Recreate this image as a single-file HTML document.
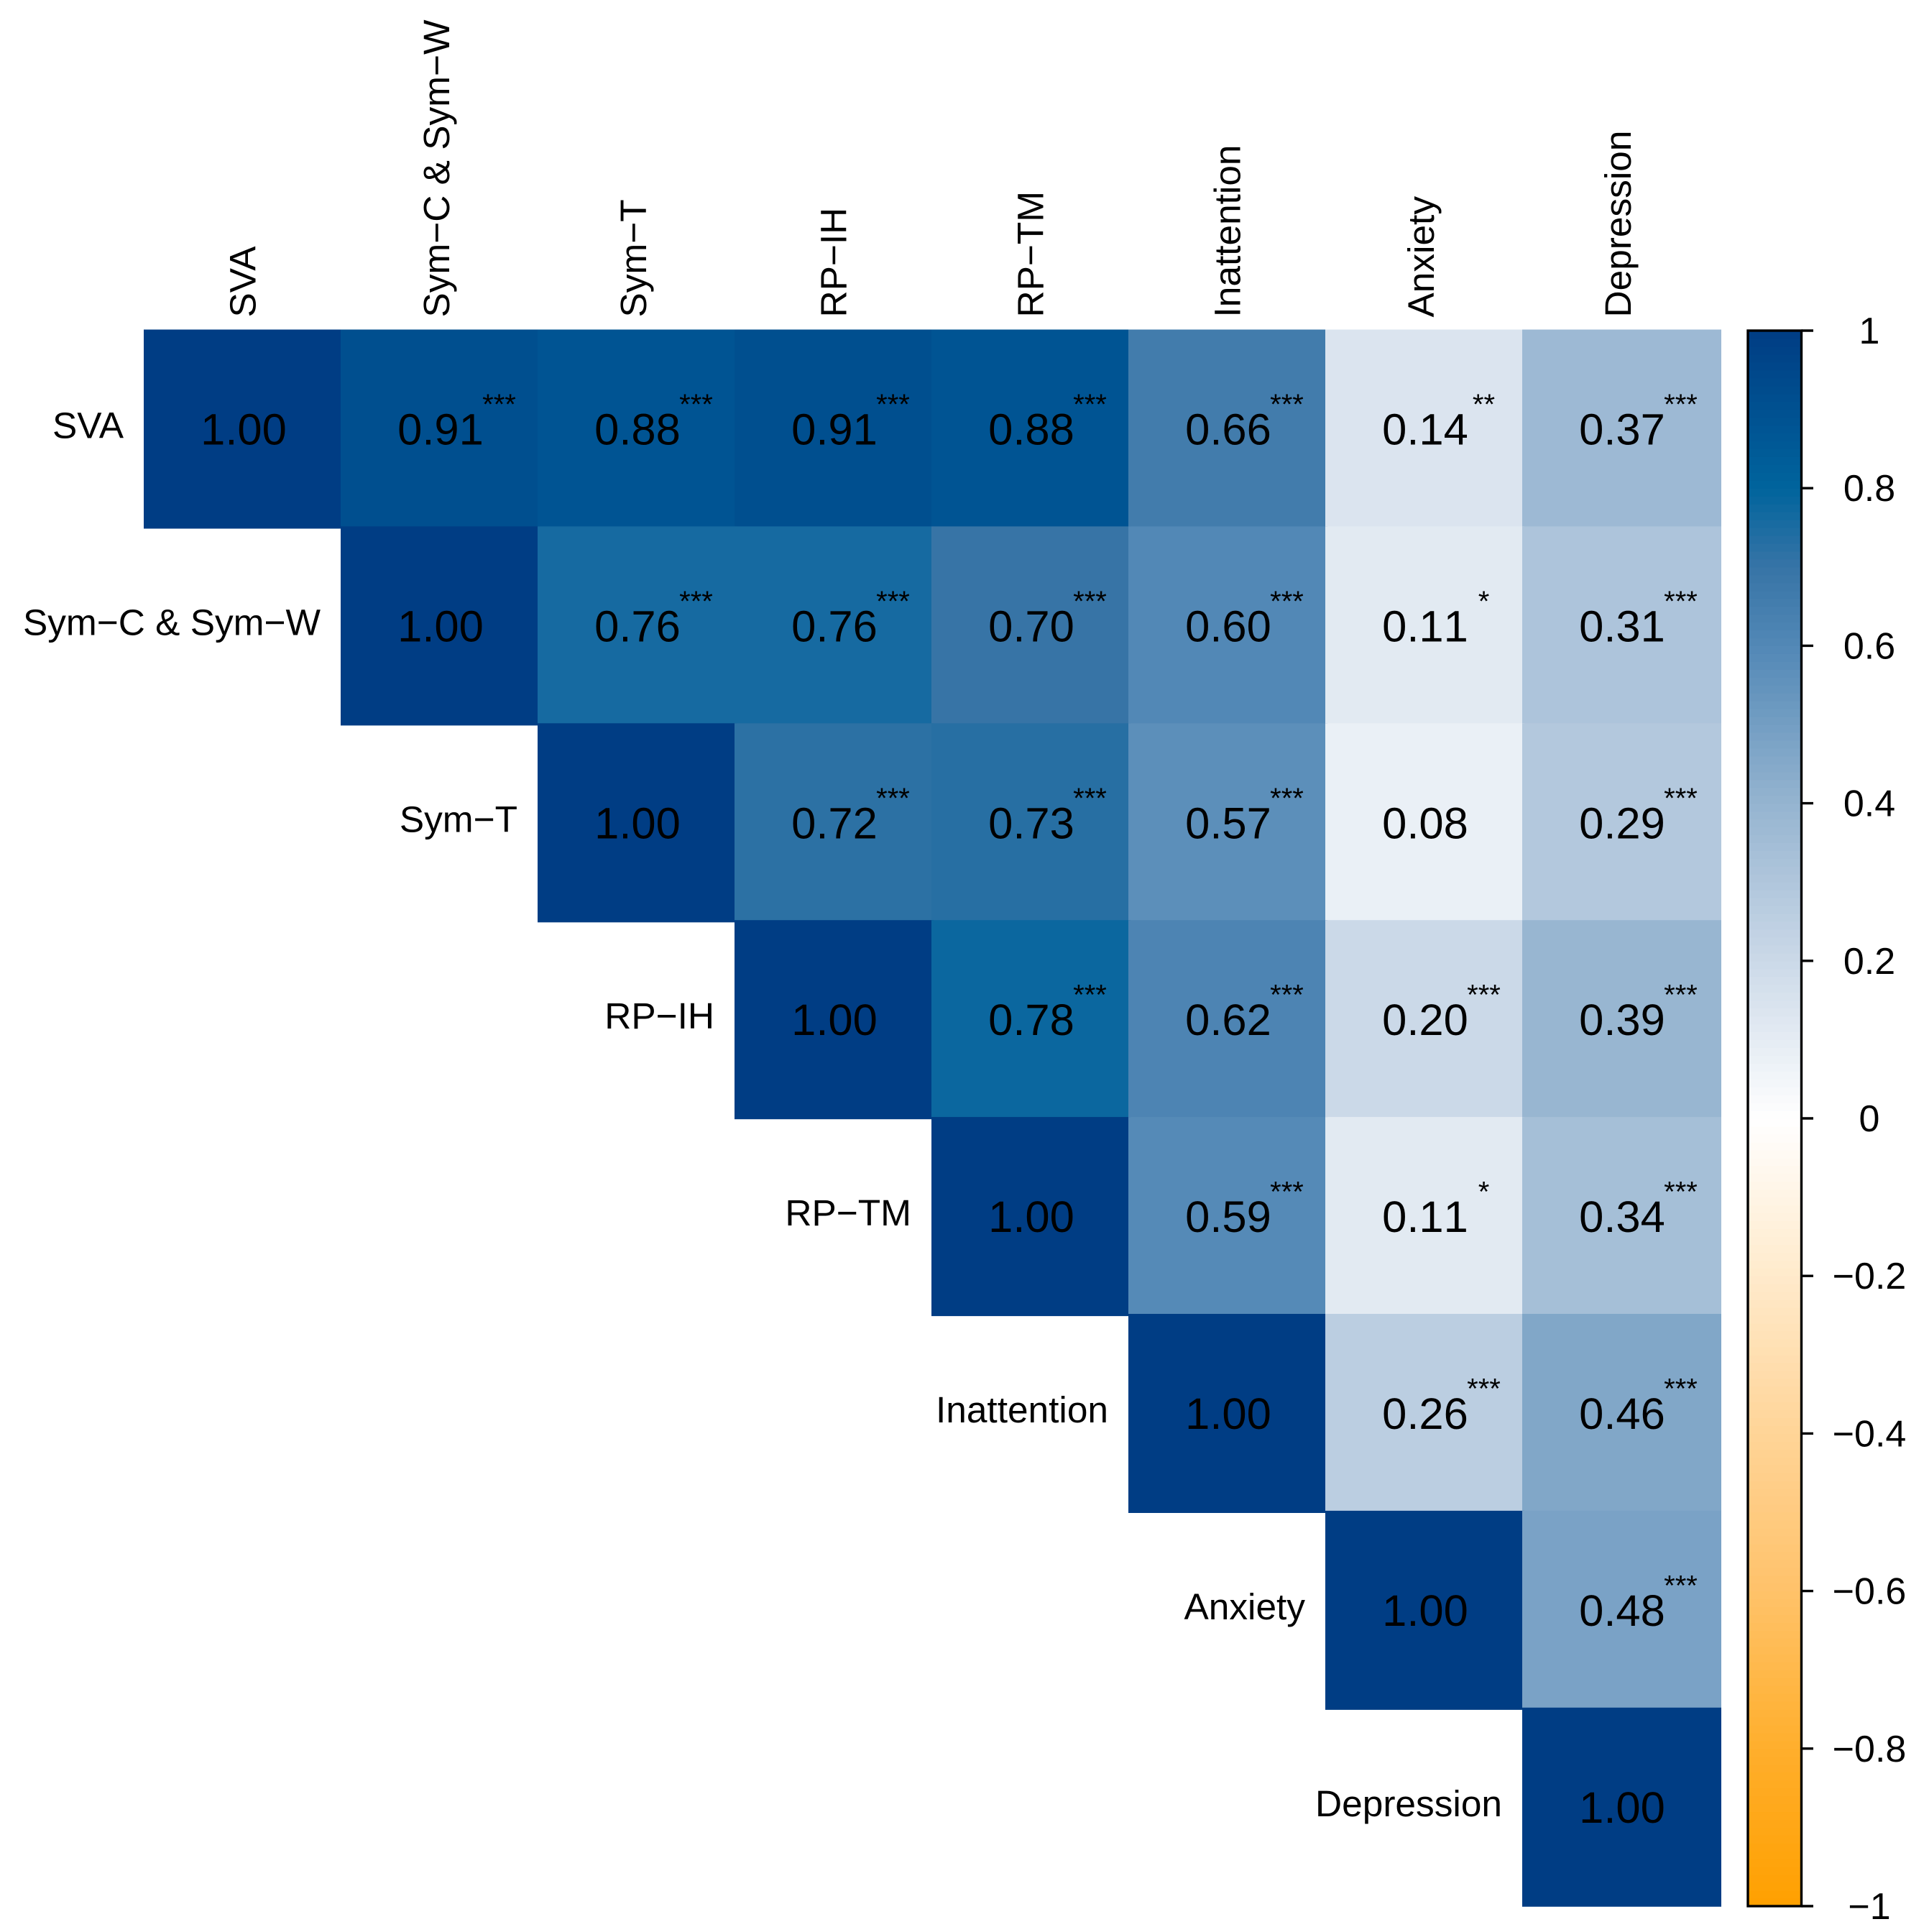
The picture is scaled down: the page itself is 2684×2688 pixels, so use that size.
<!DOCTYPE html>
<html lang="en">
<head>
<meta charset="utf-8">
<title>Correlation matrix</title>
<style>
html,body{margin:0;padding:0;background:#fff;}
svg{display:block;}
text{font-family:"Liberation Sans",Arial,sans-serif;fill:#000;}
</style>
</head>
<body>
<svg id="chart" xmlns="http://www.w3.org/2000/svg" width="2684" height="2688" viewBox="0 0 2684 2688"></svg>
<script>
const variables = ["SVA","Sym\u2212C & Sym\u2212W","Sym\u2212T","RP\u2212IH","RP\u2212TM","Inattention","Anxiety","Depression"];
const row0 = [1.00,0.91,0.88,0.91,0.88,0.66,0.14,0.37];
const row1 = [1.00,0.76,0.76,0.70,0.60,0.11,0.31];
const row2 = [1.00,0.72,0.73,0.57,0.08,0.29];
const row3 = [1.00,0.78,0.62,0.20,0.39];
const row4 = [1.00,0.59,0.11,0.34];
const row5 = [1.00,0.26,0.46];
const row6 = [1.00,0.48];
const row7 = [1.00];
const stars0 = ["","***","***","***","***","***","**","***"];
const stars1 = ["","***","***","***","***","*","***"];
const stars2 = ["","***","***","***","","***"];
const stars3 = ["","***","***","***","***"];
const stars4 = ["","***","*","***"];
const stars5 = ["","***","***"];
const stars6 = ["","***"];
const stars7 = [""];
const barTicks = [1,0.8,0.6,0.4,0.2,0,-0.2,-0.4,-0.6,-0.8,-1];
const rampValues = [-1,-0.8,-0.6,-0.4,-0.2,0,0.2,0.3,0.4,0.6,0.7,0.8,1];
const rampColors = ["#ffa000","#ffae2c","#ffc26a","#ffd497","#ffeacb","#ffffff","#cbd9e8","#b0c6dc","#95b4d0","#5288b6","#3774a6","#00649d","#003d84"];

const values = [row0,row1,row2,row3,row4,row5,row6,row7];
const stars = [stars0,stars1,stars2,stars3,stars4,stars5,stars6,stars7];

const svg = document.getElementById("chart");
const gridLeft = 200, gridTop = 458.5, pitchX = 274, pitchY = 273.9, cellSize = 277;
const barLeft = 2432, barRight = 2506.5, barTop = 460, barBottom = 2652, tickEnd = 2523, tickLabelX = 2601;

function xScale(c){ return gridLeft + c * pitchX; }
function yScale(r){ return gridTop + r * pitchY; }
function barY(v){ return barBottom - (v + 1) / 2 * (barBottom - barTop); }
function hexToRgb(h){ return [1,3,5].map(i => parseInt(h.substr(i,2),16)); }
function colorOf(v){
  const t = Math.max(-1, Math.min(1, v));
  let i = 0;
  while (i < rampValues.length - 2 && t > rampValues[i + 1]) i++;
  const f = (t - rampValues[i]) / (rampValues[i + 1] - rampValues[i]);
  const a = hexToRgb(rampColors[i]), b = hexToRgb(rampColors[i + 1]);
  return "rgb(" + a.map((x, k) => Math.round(x + (b[k] - x) * f)).join(",") + ")";
}
function make(tag, attrs, content){
  const el = document.createElementNS("http://www.w3.org/2000/svg", tag);
  for (const k in attrs) el.setAttribute(k, attrs[k]);
  if (content !== undefined) el.textContent = content;
  svg.appendChild(el);
  return el;
}

/* cells: drawn in order, each one slightly overlapping the previous */
values.forEach((row, r) => {
  row.forEach((v, i) => {
    const c = r + i;
    const cell = make("rect", {x:xScale(c), y:yScale(r), width:cellSize, height:cellSize, fill:colorOf(v)});
    
    
  });
});

/* cell value text and significance stars */
values.forEach((row, r) => {
  row.forEach((v, i) => {
    const c = r + i;
    const label = make("text", {x:xScale(c) + 139, y:yScale(r) + 160, "font-size":61.5, "text-anchor":"middle", style:"font-kerning:none"}, v.toFixed(2));
    
    
    const s = stars[r][i];
    if (s) {
      const mark = make("text", {x:xScale(c) + 220.5, y:yScale(r) + 117.5, "font-size":40, "text-anchor":"middle"}, s);
      
      
    }
  });
});

/* row labels */
variables.forEach((name, r) => {
  const t = make("text", {x:xScale(r) - 28, y:yScale(r) + 137 + 14, "font-size":51.4, "text-anchor":"end"}, name);
  
  
});

/* column labels: labels with descenders sit closer to the column centre */
variables.forEach((name, c) => {
  const x = xScale(c) + 137 + (/[ypgjq]/.test(name) ? 14 : 18.5);
  const y = gridTop - 17;
  const t = make("text", {x:x, y:y, "font-size":51.4, "text-anchor":"start", transform:"rotate(-90 " + x + " " + y + ")"}, name);
  
  
});

/* colour bar */
const barSteps = 200;
for (let i = 0; i < barSteps; i++) {
  const v0 = -1 + 2 * i / barSteps, v1 = -1 + 2 * (i + 1) / barSteps;
  const seg = make("rect", {x:barLeft, y:barY(v1), width:barRight - barLeft, height:barY(v0) - barY(v1) + 0.6, fill:colorOf((v0 + v1) / 2)});
  
  
}
const frame = make("rect", {x:barLeft, y:barTop, width:barRight - barLeft, height:barBottom - barTop, fill:"none", stroke:"#000", "stroke-width":3.4});



barTicks.forEach(v => {
  const y = barY(v);
  const tick = make("line", {x1:barRight, x2:tickEnd, y1:y, y2:y, stroke:"#000", "stroke-width":3.4});
  
  
  const text = String(v).replace("-", "\u2212");
  const lab = make("text", {x:tickLabelX, y:y + 18, "font-size":52, "text-anchor":"middle"}, text);
  
  
});
</script>
</body>
</html>
